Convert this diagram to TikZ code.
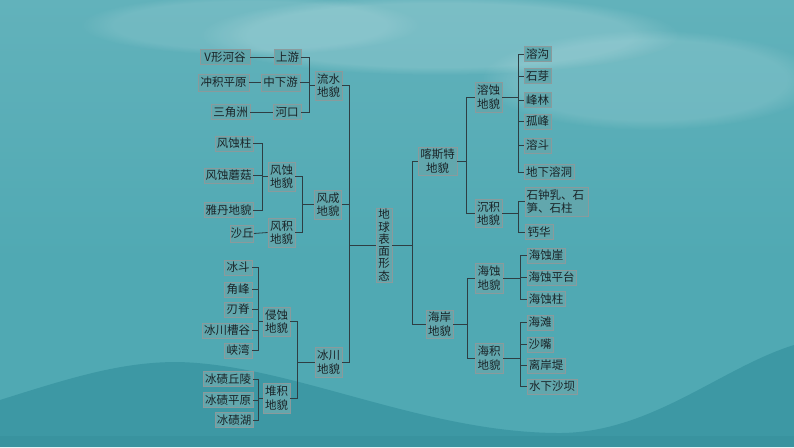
\documentclass[tikz,border=0pt]{standalone}
\usepackage{fontspec}
\setmainfont{Noto Sans CJK SC}
\usetikzlibrary{calc,fadings}
\definecolor{bgTop}{HTML}{62B2BB}
\definecolor{bgMid}{HTML}{50A9B3}
\definecolor{bgWave}{HTML}{3D98A4}
\definecolor{bgDeep}{HTML}{378F9B}
\definecolor{boxfill}{HTML}{62A7AD}
\definecolor{boxline}{HTML}{8A9A9C}
\definecolor{txt}{HTML}{1A2428}
\definecolor{lineC}{HTML}{2E3E43}
\newcommand\mybox[6]{\node[box,minimum width=#4pt,minimum height=#5pt] (#1) at (#2,#3) {#6};}
\begin{document}
\begin{tikzpicture}[x=1pt,y=-1pt,
  box/.style={draw=boxline,fill=boxfill,line width=0.8pt,text=txt,inner sep=0pt,
    font=\fontsize{11.5}{13.5}\selectfont,align=center},
  conn/.style={draw=lineC,line width=0.8pt},
  cloud/.style={white,path fading=circle with fuzzy edge 20 percent}]
\useasboundingbox (0,0) rectangle (794,447);
% background
\shade[top color=bgTop,bottom color=bgMid] (0,0) rectangle (794,260);
\fill[bgMid] (0,259) rectangle (794,447);
\fill[cloud,opacity=0.16] (440,35) ellipse (240 and 40);
\fill[cloud,opacity=0.13] (650,80) ellipse (170 and 50);
\fill[cloud,opacity=0.11] (250,25) ellipse (170 and 30);
\fill[bgWave] (0,400) .. controls (70,378) and (120,362) .. (177,362)
  .. controls (290,364) and (420,432) .. (557,433)
  .. controls (650,434) and (720,368) .. (794,345) -- (794,447) -- (0,447) -- cycle;
\fill[bgDeep,opacity=0.5] (0,436) rectangle (794,447);

% ---------- left: flowing water ----------
\mybox{vg}{225}{57}{50}{15}{V形河谷}
\mybox{cjpy}{223.5}{82.5}{51}{17}{冲积平原}
\mybox{sjz}{230.5}{112}{39}{15}{三角洲}
\mybox{sy}{287.5}{57}{27}{15}{上游}
\mybox{zxy}{280.5}{82.5}{39}{17}{中下游}
\mybox{hk}{287}{112}{28}{15}{河口}
\mybox{ls}{328.5}{85.5}{27}{29}{流水\\地貌}
% ---------- wind ----------
\mybox{fsz}{234}{143.5}{38}{15}{风蚀柱}
\mybox{fsmg}{228.5}{175.5}{49}{15}{风蚀蘑菇}
\mybox{yd}{228.5}{210}{49}{15}{雅丹地貌}
\mybox{sq}{242}{233.5}{21}{17}{沙丘}
\mybox{fs}{281.5}{176.5}{27}{29}{风蚀\\地貌}
\mybox{fj}{281.5}{232.5}{27}{29}{风积\\地貌}
\mybox{fc}{328}{204.5}{27}{29}{风成\\地貌}
% ---------- glacier ----------
\mybox{bd}{238}{267.5}{28}{15}{冰斗}
\mybox{jf}{238}{289.5}{28}{15}{角峰}
\mybox{rj}{238}{309.5}{28}{15}{刃脊}
\mybox{bcg}{227}{330.5}{50}{15}{冰川槽谷}
\mybox{xw}{238}{350.5}{28}{15}{峡湾}
\mybox{qs}{276.5}{321.5}{27}{29}{侵蚀\\地貌}
\mybox{bqql}{228}{379}{50}{15}{冰碛丘陵}
\mybox{bqpy}{228}{400}{50}{15}{冰碛平原}
\mybox{bqh}{234}{420}{38}{15}{冰碛湖}
\mybox{dj}{276.5}{398}{27}{30}{堆积\\地貌}
\mybox{bc}{328.5}{362}{27}{30}{冰川\\地貌}
% ---------- centre ----------
\node[box,minimum width=16pt,minimum height=74pt,font=\fontsize{11.5}{12.3}\selectfont] (dq) at (384,245) {地\\球\\表\\面\\形\\态};
% ---------- right: karst ----------
\mybox{kst}{437.5}{161}{39}{28}{喀斯特\\地貌}
\mybox{rs}{488.5}{97}{27}{30}{溶蚀\\地貌}
\mybox{cj}{488.5}{213.5}{27}{28}{沉积\\地貌}
\mybox{rg}{537.5}{54}{27}{15}{溶沟}
\mybox{sya}{537.5}{76}{27}{15}{石芽}
\mybox{fl}{537.5}{100}{27}{15}{峰林}
\mybox{gf}{537.5}{121.5}{27}{15}{孤峰}
\mybox{rd}{537.5}{145.5}{27}{15}{溶斗}
\mybox{dxrd}{549}{172}{50}{15}{地下溶洞}
\node[box,minimum width=63pt,minimum height=29pt,align=left,text width=60pt] (szr) at (556.5,201.5) {石钟乳、石\\笋、石柱};
\mybox{gh}{539}{232}{28}{15}{钙华}
% ---------- right: coast ----------
\mybox{ha}{439.5}{324}{27}{28}{海岸\\地貌}
\mybox{hs}{489}{278}{28}{30}{海蚀\\地貌}
\mybox{hj}{489}{358}{28}{30}{海积\\地貌}
\mybox{hsy}{546}{255.5}{38}{15}{海蚀崖}
\mybox{hspt}{551.5}{277.5}{49}{15}{海蚀平台}
\mybox{hsz}{546}{299}{38}{15}{海蚀柱}
\mybox{ht}{540}{322.5}{26}{15}{海滩}
\mybox{sz}{540}{344.5}{26}{15}{沙嘴}
\mybox{lad}{546}{365.5}{38}{15}{离岸堤}
\mybox{sxsb}{552}{386.5}{50}{15}{水下沙坝}

% bracket x positions
\coordinate (bLS) at (309,0);
\coordinate (bFS) at (262,0);
\coordinate (bFC) at (302,0);
\coordinate (bQS) at (258,0);
\coordinate (bBC) at (297,0);
\coordinate (bML) at (349,0);
\coordinate (bMR) at (412,0);
\coordinate (bK) at (466,0);
\coordinate (bRS) at (518,0);
\coordinate (bHA) at (467,0);
\coordinate (bHS) at (520,0);

% connectors: left
\draw[conn] (vg.east) -- (sy.west);
\draw[conn] (cjpy.east) -- (zxy.west);
\draw[conn] (sjz.east) -- (hk.west);
\foreach \c in {sy,zxy,hk} \draw[conn] (\c.east) -| (bLS |- ls.west) -- (ls.west);
\foreach \c in {fsz,fsmg,yd} \draw[conn] (\c.east) -| (bFS |- fs.west) -- (fs.west);
\draw[conn] (sq.east) -- (fj.west);
\foreach \c in {fs,fj} \draw[conn] (\c.east) -| (bFC |- fc.west) -- (fc.west);
\foreach \c in {bd,jf,rj,bcg,xw} \draw[conn] (\c.east) -| (bQS |- qs.west) -- (qs.west);
\foreach \c in {bqql,bqpy,bqh} \draw[conn] (\c.east) -| (bQS |- dj.west) -- (dj.west);
\foreach \c in {qs,dj} \draw[conn] (\c.east) -| (bBC |- bc.west) -- (bc.west);
\foreach \c in {ls,fc,bc} \draw[conn] (\c.east) -| (bML |- dq.west) -- (dq.west);
% connectors: right
\foreach \c in {kst,ha} \draw[conn] (dq.east) -- (bMR |- dq.east) |- (\c.west);
\foreach \c in {rs,cj} \draw[conn] (kst.east) -- (bK |- kst.east) |- (\c.west);
\foreach \c in {rg,sya,fl,gf,rd,dxrd} \draw[conn] (rs.east) -- (bRS |- rs.east) |- (\c.west);
\foreach \c in {szr,gh} \draw[conn] (cj.east) -- (bRS |- cj.east) |- (\c.west);
\foreach \c in {hs,hj} \draw[conn] (ha.east) -- (bHA |- ha.east) |- (\c.west);
\foreach \c in {hsy,hspt,hsz} \draw[conn] (hs.east) -- (bHS |- hs.east) |- (\c.west);
\foreach \c in {ht,sz,lad,sxsb} \draw[conn] (hj.east) -- (bHS |- hj.east) |- (\c.west);
\end{tikzpicture}
\end{document}
